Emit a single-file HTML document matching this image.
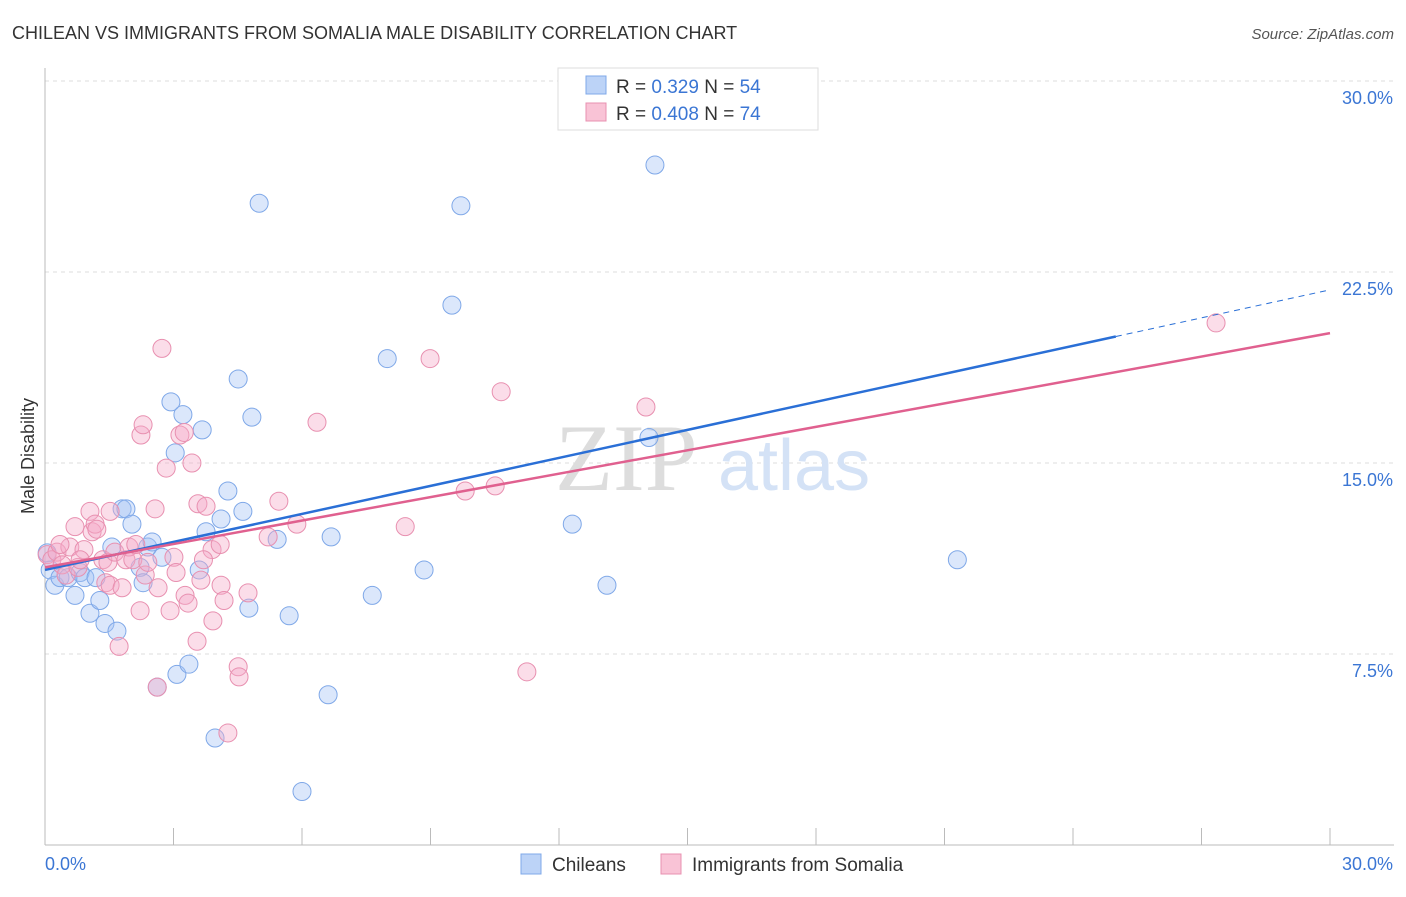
<!DOCTYPE html>
<html><head><meta charset="utf-8"><style>
body{margin:0;background:#fff;font-family:"Liberation Sans",sans-serif;}
</style></head><body>
<svg width="1406" height="892" xmlns="http://www.w3.org/2000/svg" font-family="Liberation Sans, sans-serif">
<text x="12" y="39" font-size="18" fill="#333">CHILEAN VS IMMIGRANTS FROM SOMALIA MALE DISABILITY CORRELATION CHART</text>
<text x="1394" y="39" font-size="15" fill="#555" text-anchor="end" font-style="italic">Source: ZipAtlas.com</text>
<g id="grid"></g>
<g><text x="555" y="490" font-size="95" fill="#ddd" font-family="Liberation Serif, serif">ZIP</text><text x="718" y="490" font-size="72" fill="#d4e2f6">atlas</text></g>
<g id="pts"></g>
<g id="lines"></g>
<text transform="translate(34,456) rotate(-90)" font-size="18" fill="#333" text-anchor="middle">Male Disability</text>
<text x="45" y="870" font-size="18" fill="#3b76d4">0.0%</text>
<text x="1393" y="870" font-size="18" fill="#3b76d4" text-anchor="end">30.0%</text>
<g>
<rect x="558" y="68" width="260" height="62" fill="#fff" stroke="#ddd"/>
<rect x="586" y="76" width="20" height="18" fill="#bcd3f7" stroke="#7fa8e8"/>
<rect x="586" y="103" width="20" height="18" fill="#f9c3d6" stroke="#e890b0"/>
<text x="616" y="93" font-size="19" fill="#333">R = <tspan fill="#3b76d4">0.329</tspan>   N = <tspan fill="#3b76d4">54</tspan></text>
<text x="616" y="120" font-size="19" fill="#333">R = <tspan fill="#3b76d4">0.408</tspan>   N = <tspan fill="#3b76d4">74</tspan></text>
</g>
<g>
<rect x="521" y="854" width="20" height="20" fill="#bcd3f7" stroke="#7fa8e8"/>
<text x="552" y="871" font-size="19" fill="#333">Chileans</text>
<rect x="661" y="854" width="20" height="20" fill="#f9c3d6" stroke="#e890b0"/>
<text x="692" y="871" font-size="19" fill="#333">Immigrants from Somalia</text>
</g>
</svg>
<script>
const yTicks=[7.5,15,22.5,30];
const yTickLabels=["7.5%","15.0%","22.5%","30.0%"];
const blueX=[0.05,0.12,0.23,0.35,0.54,0.7,0.82,0.93,1.05,1.19,1.28,1.4,1.56,1.68,1.8,1.89,2.03,2.22,2.29,2.4,2.5,2.62,2.73,2.94,3.04,3.08,3.22,3.36,3.6,3.67,3.76,3.97,4.11,4.27,4.51,4.62,4.76,4.83,5.0,5.42,5.7,6.0,6.61,6.68,7.64,7.99,8.85,9.5,9.71,12.31,13.12,14.1,14.24,21.3];
const blueY=[11.47,10.8,10.2,10.5,10.5,9.8,10.7,10.5,9.1,10.5,9.6,8.7,11.7,8.4,13.2,13.2,12.6,10.9,10.3,11.7,11.9,6.2,11.3,17.4,15.4,6.7,16.9,7.1,10.8,16.3,12.3,4.2,12.8,13.9,18.3,13.1,9.3,16.8,25.2,12.0,9.0,2.1,5.9,12.1,9.8,19.1,10.8,21.2,25.1,12.6,10.2,16.0,26.7,11.2];
const pinkX=[0.05,0.16,0.28,0.4,0.49,0.58,0.7,0.77,0.91,1.05,1.1,1.17,1.21,1.35,1.42,1.47,1.52,1.63,1.73,1.8,1.89,1.96,2.05,2.12,2.24,2.29,2.34,2.4,2.57,2.62,2.64,2.73,2.83,2.92,3.01,3.06,3.15,3.25,3.27,3.34,3.43,3.55,3.57,3.64,3.76,3.9,3.92,4.09,4.11,4.18,4.51,4.53,4.27,4.74,5.21,5.46,5.88,6.35,8.41,8.99,9.81,10.51,10.65,11.25,14.03,27.34,0.82,0.35,2.22,1.52,3.7];
const pinkY=[11.4,11.2,11.5,11.0,10.6,11.7,12.5,10.9,11.6,13.1,12.3,12.6,12.4,11.2,10.3,11.1,10.2,11.5,7.8,10.1,11.2,11.7,11.2,11.8,16.1,16.5,10.6,11.1,13.2,6.2,10.1,19.5,14.8,9.2,11.3,10.7,16.1,16.2,9.8,9.5,15.0,8.0,13.4,10.4,13.3,11.6,8.8,11.8,10.2,9.6,7.0,6.6,4.4,9.9,12.1,13.5,12.6,16.6,12.5,19.1,13.9,14.1,17.8,6.8,17.2,20.5,11.2,11.8,9.2,13.1,11.2];
const blueTrend=[10.8,21.8];
const pinkTrend=[10.9,20.1];
const sx=v=>45+v/30*1285, sy=v=>845-v/7.5*191;
const NS="http://www.w3.org/2000/svg";
function mk(t,a,p){const e=document.createElementNS(NS,t);for(const k in a)e.setAttribute(k,a[k]);p.appendChild(e);return e;}
const g=document.getElementById('grid');
yTicks.forEach((t,i)=>{
 const l=mk('line',{x1:45,x2:1394,y1:sy(t),y2:sy(t),stroke:'#ddd','stroke-dasharray':'4,4'},g);
 
 
 const tx=mk('text',{x:1393,y:sy(t)+23,'font-size':18,fill:'#3b76d4','text-anchor':'end'},g);
 tx.textContent=yTickLabels[i];
 
 
});
mk('line',{x1:45,x2:45,y1:68,y2:845,stroke:'#bbb'},g);
mk('line',{x1:45,x2:1394,y1:845,y2:845,stroke:'#bbb'},g);
for(let i=0;i<=10;i++){const x=sx(i*3);const t=mk('line',{x1:x,x2:x,y1:828,y2:845,stroke:'#bbb'},g);
 
 }
const pg=document.getElementById('pts');
function pts(X,Y,fill,stroke,name){X.forEach((x,i)=>{const c=mk('circle',{cx:sx(x),cy:sy(Y[i]),r:9,fill:fill,stroke:stroke,'stroke-width':1},pg);
 
 });}
pts(blueX,blueY,'rgba(164,194,244,0.4)','#7fa8e8','chilean-point');
pts(pinkX,pinkY,'rgba(244,170,200,0.4)','#e890b0','somalia-point');
const lg=document.getElementById('lines');
const bAt=x=>blueTrend[0]+(blueTrend[1]-blueTrend[0])*x/30;
let l1=mk('line',{x1:sx(0),y1:sy(bAt(0)),x2:sx(25),y2:sy(bAt(25)),stroke:'#2a6fd6','stroke-width':2.5},lg);


let l2=mk('line',{x1:sx(25),y1:sy(bAt(25)),x2:sx(30),y2:sy(bAt(30)),stroke:'#2a6fd6','stroke-width':1,'stroke-dasharray':'6,5'},lg);


let l3=mk('line',{x1:sx(0),y1:sy(pinkTrend[0]),x2:sx(30),y2:sy(pinkTrend[1]),stroke:'#e0608f','stroke-width':2.5},lg);


</script>
</body></html>
